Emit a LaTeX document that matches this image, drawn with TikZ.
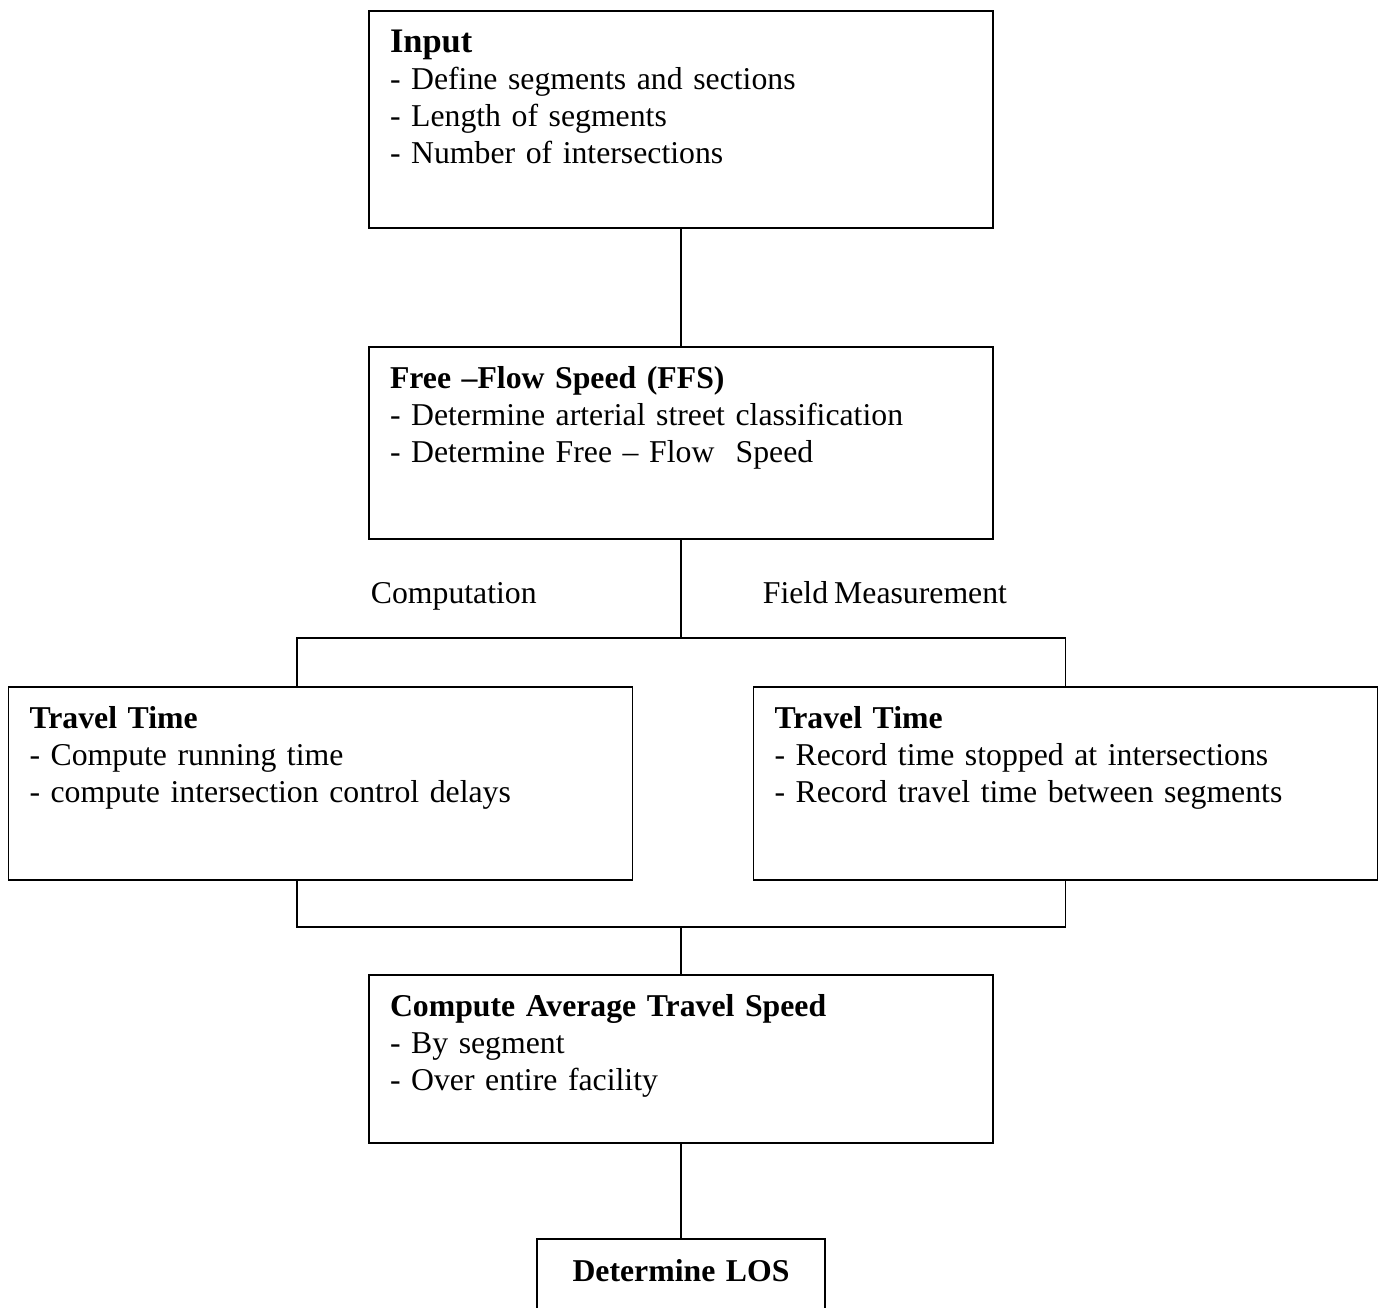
\documentclass[tikz,border=0pt]{standalone}
\usepackage{fontspec}
\setmainfont[WordSpace=0.76]{Liberation Serif}
\usetikzlibrary{positioning}

\begin{document}
\begin{tikzpicture}[
    x=1pt, y=-1pt,
    line width=1.8pt,
    node distance=119pt,
    stepbox/.style={draw, rectangle, align=left, text width=582pt,
      inner xsep=21pt, inner ysep=0pt, outer sep=0pt, text height=41pt,
      font=\fontsize{31.75}{37}\selectfont},
    branchlabel/.style={anchor=base west, inner sep=0pt,
      font=\fontsize{31.75}{37}\selectfont}
    ]
  \useasboundingbox (0,0) rectangle (1383,1308);
  \clip (0,0) rectangle (1383,1308);

  \node[stepbox, text height=42pt, text depth=175pt, anchor=north] (input) at (681,11)
    {{\fontsize{34.4}{37}\selectfont\textbf{Input}}\\- Define segments and sections\\- Length of segments\\- Number of intersections};
  \node[stepbox, text depth=151pt, below=of input] (ffs)
    {\textbf{Free –Flow Speed (FFS)}\\- Determine arterial street classification\\- Determine Free – Flow~~Speed};
  \node[stepbox, text depth=152pt, below=148pt of ffs, xshift=-360.5pt] (ttcomp)
    {\textbf{Travel Time}\\- Compute running time\\- compute intersection control delays};
  \node[stepbox, text depth=152pt, below=148pt of ffs, xshift=384.5pt] (ttfield)
    {\textbf{Travel Time}\\- Record time stopped at intersections\\- Record travel time between segments};
  \node[stepbox, text depth=127pt, below=436pt of ffs] (avg)
    {\textbf{Compute Average Travel Speed}\\- By segment\\- Over entire facility};
  \node[stepbox, text width=246pt, align=center, text height=42pt, text depth=68pt,
    below=96pt of avg] (los) {\textbf{Determine LOS}};

  % branch labels
  \node[branchlabel] (comp) at (370,603) {Computation};
  \node[branchlabel] (field) at (762,603) {Field Measurement};

  \coordinate[below=99pt of ffs.south] (split);
  \coordinate[xshift=-23.5pt] (compin) at (ttcomp.north);
  \coordinate[xshift=-23.5pt] (compout) at (ttcomp.south);
  \coordinate[above=48pt of avg.north] (merge);

  \draw (input.south) -- (ffs.north);
  \draw (ffs.south) -- (split);
  \draw (compin) |- (split) -| (ttfield.north);
  \draw (compout) |- (merge) -| (ttfield.south);
  \draw (merge) -- (avg.north);
  \draw (avg.south) -- (los.north);

\end{tikzpicture}
\end{document}
